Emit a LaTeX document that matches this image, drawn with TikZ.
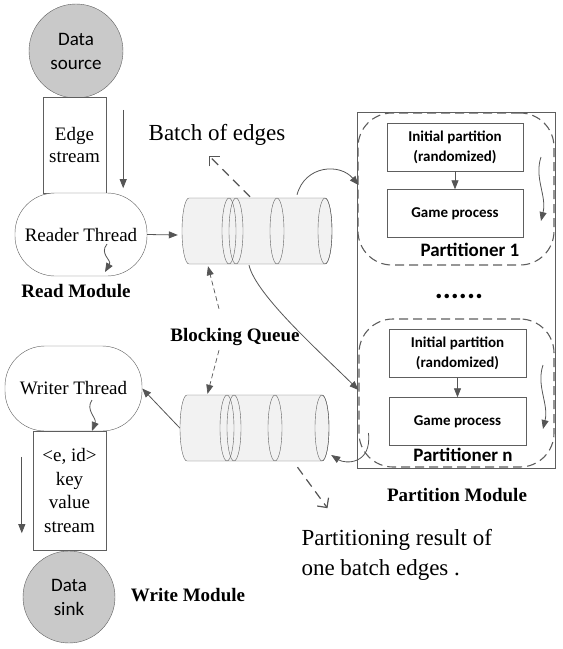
\documentclass[tikz,border=0pt]{standalone}
\usepackage{fontspec}
\setmainfont{Liberation Serif}
\newfontfamily\sansfam{Carlito}
\usetikzlibrary{arrows.meta,calc}
\definecolor{linegray}{HTML}{5E5E5E}
\definecolor{arrowgray}{HTML}{555555}

\begin{document}
\begin{tikzpicture}[x=1pt,y=-1pt,
  every node/.style={font=\fontsize{19}{22}\selectfont},
  disk/.style={circle, draw=linegray, fill=gray!42, align=center,
    font=\sansfam\fontsize{19}{24}\selectfont},
  streambox/.style={rectangle, draw=linegray, fill=white, align=center, inner sep=0pt},
  thread/.style={rectangle, rounded corners=40pt, draw=linegray, fill=white},
  modlabel/.style={font=\bfseries\fontsize{19}{22}\selectfont},
  procbox/.style={rectangle, draw=linegray, minimum width=136pt, minimum height=48pt,
    align=center, font=\sansfam\bfseries\fontsize{15}{20}\selectfont},
  partregion/.style={rectangle, rounded corners=34pt, draw=linegray, line width=1.1pt,
    dash pattern=on 9pt off 5pt},
  partlabel/.style={font=\sansfam\bfseries\fontsize{19}{22}\selectfont},
  qfill/.style={draw=linegray, fill=gray!10},
  arr/.style={draw=arrowgray, line width=0.8pt, -{Triangle[length=9pt,width=7pt]}},
  batcharr/.style={draw=arrowgray, line width=1.2pt, dash pattern=on 9pt off 6pt,
    -{Straight Barb[length=7pt,width=14pt]}},
  hintarr/.style={draw=arrowgray, line width=0.7pt, dash pattern=on 5pt off 3pt,
    -{Triangle[length=9pt,width=7pt]}}]

  \useasboundingbox (0,0) rectangle (563,649);

  % ====== 1) read module ======
  \node[disk, minimum size=94pt] (src) at (76,51) {Data\\source};
  \node[streambox, minimum width=63pt, minimum height=96pt,
    font=\fontsize{19}{22}\selectfont] (es) at (74.5,145) {Edge\\stream};
  \node[thread, minimum width=132pt, minimum height=83pt] (rt) at (81,234.5) {Reader Thread};
  \node[modlabel] (rm) at (76,291) {Read Module};
  \draw[arr] ($(es.north east)+(17,13)$) -- ($(es.south east)+(17,-5)$);
  \draw[arr] (107,244) .. controls (99,254) and (112,260) .. (105,272);

  % ====== 2) blocking queues ======
  \node[minimum width=150pt, minimum height=66pt, inner sep=0pt] (q1) at (257,231) {};
  \node[minimum width=149pt, minimum height=66pt, inner sep=0pt] (q2) at (254.5,428) {};

  \path[qfill] (189,198) arc[start angle=90, end angle=270, x radius=7pt, y radius=33pt]
    -- (325,264) arc[start angle=-90, end angle=90, x radius=7pt, y radius=33pt] -- cycle;
  \draw[linegray] (229,231) ellipse[x radius=7pt, y radius=33pt];
  \draw[linegray] (236,231) ellipse[x radius=7pt, y radius=33pt];
  \draw[linegray] (277,231) ellipse[x radius=7pt, y radius=33pt];
  \draw[linegray] (325,231) ellipse[x radius=7pt, y radius=33pt];

  \path[qfill] (187,395) arc[start angle=90, end angle=270, x radius=7pt, y radius=33pt]
    -- (322,461) arc[start angle=-90, end angle=90, x radius=7pt, y radius=33pt] -- cycle;
  \draw[linegray] (227,428) ellipse[x radius=7pt, y radius=33pt];
  \draw[linegray] (234,428) ellipse[x radius=7pt, y radius=33pt];
  \draw[linegray] (275,428) ellipse[x radius=7pt, y radius=33pt];
  \draw[linegray] (322,428) ellipse[x radius=7pt, y radius=33pt];

  \node[modlabel] (bq) at (235,337) {Blocking Queue};
  \node[font=\fontsize{23}{26}\selectfont] (boe) at (217,135) {Batch of edges};
  \node[font=\fontsize{23}{30}\selectfont, align=left, anchor=west] (res) at (298,555)
    {Partitioning result of\\one batch edges .};

  % ====== 3) partition module ======
  \node[rectangle, draw=linegray, minimum width=198pt, minimum height=356pt] (pm) at (456,290) {};
  \node[partregion, minimum width=196pt, minimum height=152pt] (p1) at (456,189) {};
  \node[procbox] (init1) at (455,147) {Initial partition\\(randomized)};
  \node[procbox] (game1) at (455,213.5) {Game process};
  \node[partlabel] (p1lab) at (470,250) {Partitioner 1};
  \draw[arr] (init1) -- (game1);
  \draw[arr] (541,157) .. controls (534,178) and (547,196) .. (541,221);

  \node[font=\sansfam\bfseries\fontsize{30}{30}\selectfont] (dots) at (459,296) {......};

  \node[partregion, minimum width=195pt, minimum height=148pt] (pn) at (456.5,393) {};
  \node[procbox, minimum width=137pt] (initn) at (457.5,353.5) {Initial partition\\(randomized)};
  \node[procbox, minimum width=137pt] (gamen) at (457.5,421.5) {Game process};
  \node[partlabel] (pnlab) at (463,455) {Partitioner n};
  \draw[arr] (initn) -- (gamen);
  \draw[arr] (543,365) .. controls (536,386) and (549,404) .. (543,429);
  \node[modlabel] (pmlab) at (457,495) {Partition Module};

  % ====== 4) write module ======
  \node[thread, minimum width=137pt, minimum height=85pt] (wt) at (73.5,388.5) {Writer Thread};
  \node[streambox, minimum width=73pt, minimum height=119pt,
    font=\fontsize{19}{23.5}\selectfont] (ws) at (69.5,490.5) {<e, id>\\key\\value\\stream};
  \node[disk, minimum size=92pt] (sink) at (69,597) {Data\\sink};
  \node[modlabel] (wm) at (188,595) {Write Module};
  \draw[arr] (92,400) .. controls (85,410) and (97,418) .. (92,431);
  \draw[arr] ($(ws.north west)+(-11,26)$) -- ($(ws.south west)+(-11,-17)$);

  % ====== 5) connectors ======
  \draw[arr] (rt.east) -- ($(q1.west)+(-4,4)$);
  \draw[batcharr] ($(q1.north)+(-7,-1)$) -- ++(-41,-41);
  \draw[arr] ($(q1.north)+(40,-3)$) .. controls (305,165) and (340,163) .. ($(p1.west)+(1,-4)$);
  \draw[arr] ($(q1.south)+(-8,1)$) .. controls (256,295) and (320,352) .. ($(pn.west)+(0,-3)$);
  \draw[hintarr] ($(bq.north)+(-16,-16)$) -- ($(q1.south)+(-49,2)$);
  \draw[hintarr] ($(bq.south)+(-16,1)$) -- ($(q2.north)+(-47,-1)$);
  \draw[arr] (q2.west) -- (wt.east);
  \draw[arr] ($(pn.west)+(10,40)$) .. controls (372,465) and (345,464) .. ($(q2.east)+(2,27)$);
  \draw[batcharr] ($(q2.south)+(43,6)$) -- ++(30,41);

\end{tikzpicture}
\end{document}
